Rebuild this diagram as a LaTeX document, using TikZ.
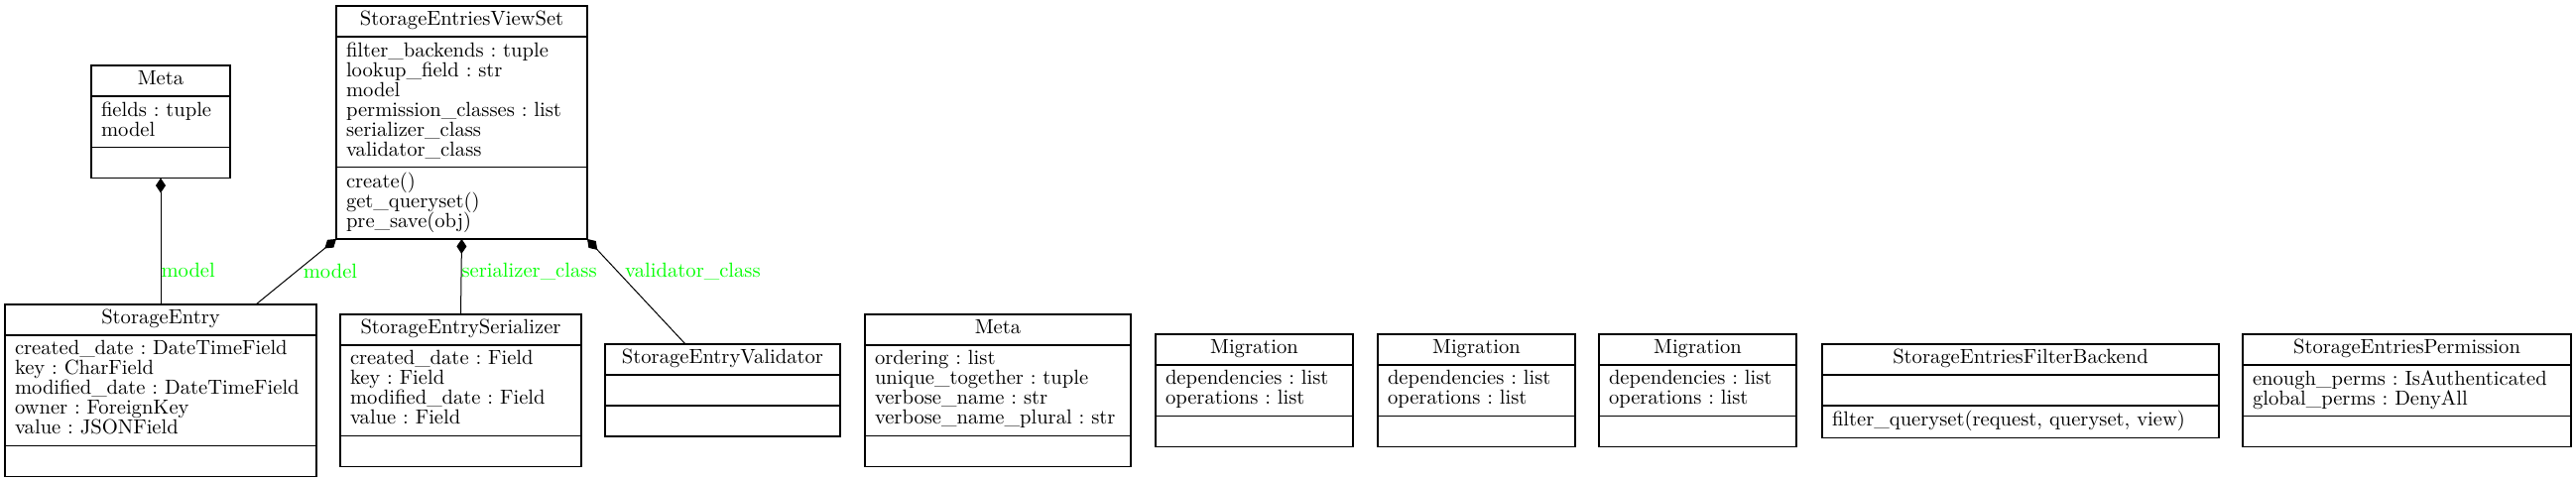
\documentclass[tikz,border=0pt]{standalone}
\usetikzlibrary{arrows.meta, calc}
\newcommand{\umlfont}{\fontsize{10.3}{10}\selectfont\lineskiplimit=-20pt}
\tikzset{
  classhead/.style={draw, line width=0.7pt, anchor=north west, minimum width=#1+10pt,
    minimum height=15.5pt, inner sep=0pt, outer sep=0pt, font=\umlfont},
  classpart/.style={draw, line width=0.7pt, anchor=north west, text width=#1, align=left,
    inner xsep=5pt, inner ysep=2.75pt, outer sep=0pt, minimum height=15.5pt, font=\umlfont,
    execute at begin node=\strut, execute at end node=\strut},
  compose/.style={-{Diamond[length=7.5pt,width=5pt]}, line width=0.5pt},
  rolelabel/.style={text=green, font=\umlfont, inner sep=0pt, anchor=west},
}
\begin{document}
\umlfont\frenchspacing
\begin{tikzpicture}[x=0.5pt, y=-0.5pt]
    \useasboundingbox (0,0) rectangle (2597,485);
    % Meta of StorageEntry
    \node[classhead=60pt] (meta) at (92,66) {\strut Meta};
    \node[classpart=60pt] (meta-a) at (meta.south west) {fields : tuple\\ model};
    \node[classpart=60pt] (meta-m) at (meta-a.south west) {};
    % view set
    \node[classhead=116.5pt] (viewset) at (339,6) {\strut StorageEntriesViewSet};
    \node[classpart=116.5pt] (viewset-a) at (viewset.south west) {filter\_backends : tuple\\
      lookup\_field : str\\ model\\ permission\_classes : list\\ serializer\_class\\ validator\_class};
    \node[classpart=116.5pt] (viewset-m) at (viewset-a.south west) {create()\\ get\_queryset()\\ pre\_save(obj)};
    % model
    \node[classhead=147pt] (entry) at (5,307) {\strut StorageEntry};
    \node[classpart=147pt] (entry-a) at (entry.south west) {created\_date : DateTimeField\\
      key : CharField\\ modified\_date : DateTimeField\\ owner : ForeignKey\\ value : JSONField};
    \node[classpart=147pt] (entry-m) at (entry-a.south west) {};
    % serializer
    \node[classhead=111.5pt] (serializer) at (343,317) {\strut StorageEntrySerializer};
    \node[classpart=111.5pt] (serializer-a) at (serializer.south west) {created\_date : Field\\
      key : Field\\ modified\_date : Field\\ value : Field};
    \node[classpart=111.5pt] (serializer-m) at (serializer-a.south west) {};
    % validator
    \node[classhead=108.5pt] (validator) at (610,347) {\strut StorageEntryValidator};
    \node[classpart=108.5pt] (validator-a) at (validator.south west) {};
    \node[classpart=108.5pt] (validator-m) at (validator-a.south west) {};
    % Meta of the model
    \node[classhead=124pt] (modelmeta) at (872,317) {\strut Meta};
    \node[classpart=124pt] (modelmeta-a) at (modelmeta.south west) {ordering : list\\
      unique\_together : tuple\\ verbose\_name : str\\ verbose\_name\_plural : str};
    \node[classpart=124pt] (modelmeta-m) at (modelmeta-a.south west) {};
    % migrations
    \node[classhead=89.5pt] (mig1) at (1165,337) {\strut Migration};
    \node[classpart=89.5pt] (mig1-a) at (mig1.south west) {dependencies : list\\ operations : list};
    \node[classpart=89.5pt] (mig1-m) at (mig1-a.south west) {};
    \node[classhead=89.5pt] (mig2) at (1389,337) {\strut Migration};
    \node[classpart=89.5pt] (mig2-a) at (mig2.south west) {dependencies : list\\ operations : list};
    \node[classpart=89.5pt] (mig2-m) at (mig2-a.south west) {};
    \node[classhead=89.5pt] (mig3) at (1612,337) {\strut Migration};
    \node[classpart=89.5pt] (mig3-a) at (mig3.south west) {dependencies : list\\ operations : list};
    \node[classpart=89.5pt] (mig3-m) at (mig3-a.south west) {};
    % filter backend
    \node[classhead=190pt] (filterbackend) at (1837,347) {\strut StorageEntriesFilterBackend};
    \node[classpart=190pt] (filterbackend-a) at (filterbackend.south west) {};
    \node[classpart=190pt] (filterbackend-m) at (filterbackend-a.south west) {filter\_queryset(request, queryset, view)};
    % permission
    \node[classhead=155.5pt] (permission) at (2261,337) {\strut StorageEntriesPermission};
    \node[classpart=155.5pt] (permission-a) at (permission.south west) {enough\_perms : IsAuthenticated\\
      global\_perms : DenyAll};
    \node[classpart=155.5pt] (permission-m) at (permission-a.south west) {};
    % compositions
    \draw[compose] (entry.north) -- node[rolelabel, pos=0.27] (lmodel) {model} (meta-m.south);
    \draw[compose] ($(entry.north)+(96,0)$) -- node[rolelabel, pos=0.51, xshift=3pt] (lvsmodel) {model} (viewset-m.south west);
    \draw[compose] (serializer.north) -- node[rolelabel, pos=0.57] (lser) {serializer\_class} (viewset-m.south);
    \draw[compose] ($(validator.north)+(-37.5,0)$) -- node[rolelabel, pos=0.69, xshift=3.5pt] (lval) {validator\_class} (viewset-m.south east);
\end{tikzpicture}
\end{document}
